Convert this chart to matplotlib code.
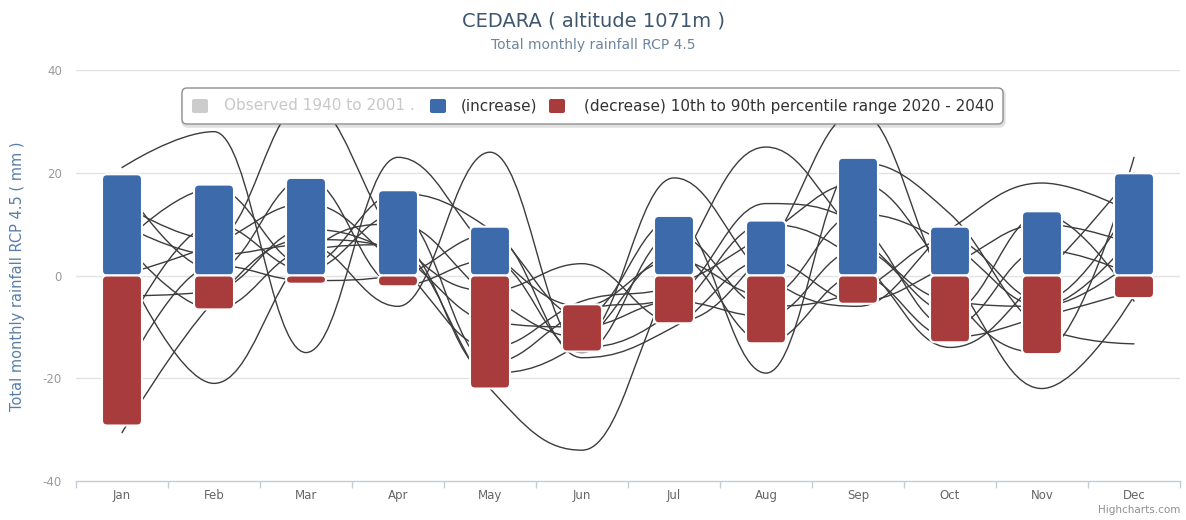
import matplotlib
matplotlib.use("Agg")
import matplotlib.pyplot as plt
from matplotlib.path import Path
from matplotlib.patches import PathPatch, FancyBboxPatch

# ---- data -------------------------------------------------------------
months = ["Jan", "Feb", "Mar", "Apr", "May", "Jun",
          "Jul", "Aug", "Sep", "Oct", "Nov", "Dec"]

# 10th and 90th percentile of projected change (mm), 2020 - 2040
p10 = [-29.2, -6.6, -1.6, -2.1, -22.0, -14.8, -9.3, -13.2, -5.5, -13.0, -15.3, -4.4]
p90 = [19.7, 17.7, 19.0, 16.6, 9.5, -5.6, 11.6, 10.7, 22.9, 9.5, 12.5, 19.9]

# individual downscaled model projections (mm)
model_a = [21, 28, -15, 23, 5, -6, 3, -4, 12, 6, -6, 8]
model_b = [-30.6, -5, 7, 5, -22, -34, 0, 25, 8, -5, -6, 3]
model_c = [3, -21, 4, 10, -4, -12, 19, 0, -6, 9, 18, 12]
model_d = [14, 7, 34, 7, -3, 2.3, -9, 5, 32, -3, -15, 23]
model_e = [10, 4, 6, -6, 24, -14, -7, 10, 3, -14, 0, 20]
model_f = [6, 17, 2, 16, 9, -8, 11, -19, 22, 12, -10, -13.3]
model_g = [0, 6, 14, 2, -14, -5, -2, 8, 18, 0, -22, -4]
model_h = [-4, -3, 9, 4, -9, -10, -5, -8, 5, -7, 12, -5]
model_i = [18, 1, 19, -2, 3, -15, 8, -6, -3, 7, -5, 15]
model_j = [-12, 10, 1, 12, -17, -7, -4, 14, 10, -10, 5, 0]
model_k = [7, -6.6, 5, 6, -19, -13, 4, -13, 0, -12, -8, -3]
model_l = [-20, 2, -1, 0, 8, -16, -10, 3, -5, 2, 10, 6]
models = [model_a, model_b, model_c, model_d, model_e, model_f,
          model_g, model_h, model_i, model_j, model_k, model_l]

title = "CEDARA ( altitude 1071m )"
subtitle = "Total monthly rainfall RCP 4.5"
y_title = "Total monthly rainfall RCP 4.5 ( mm )"
legend_labels = ["Observed 1940 to 2001 .", "(increase)",
                 "(decrease) 10th to 90th percentile range 2020 - 2040"]

# ---- styling ----------------------------------------------------------
BLUE = "#3d6aaa"
RED = "#a83b3b"
W, H = 1186, 520
L, R, T, B = 76, 1180, 70, 481

fig = plt.figure(figsize=(W / 100, H / 100), dpi=100)
fig.patch.set_facecolor("white")
ax = fig.add_axes([L / W, 1 - B / H, (R - L) / W, (B - T) / H])
ax.set_xlim(-0.5, len(months) - 0.5)
ax.set_ylim(-40, 40)
ax.set_facecolor("white")

# pixel size of one data unit, used for corner rounding
px_x = (R - L) / len(months)
px_y = (B - T) / 80.0


def spline_path(xs, ys):
    """Smooth curve through the points, same construction as a Highcharts spline."""
    sm, den = 1.5, 2.5
    n = len(xs)
    right = [None] * n
    verts = [(xs[0], ys[0])]
    codes = [Path.MOVETO]
    for i in range(1, n):
        x, y = xs[i], ys[i]
        if i < n - 1:
            lx, ly = xs[i - 1], ys[i - 1]
            nx, ny = xs[i + 1], ys[i + 1]
            lcx, lcy = (sm * x + lx) / den, (sm * y + ly) / den
            rcx, rcy = (sm * x + nx) / den, (sm * y + ny) / den
            corr = (rcy - lcy) * (rcx - x) / (rcx - lcx) + y - rcy
            lcy += corr
            rcy += corr
            if lcy > ly and lcy > y:
                lcy = max(ly, y)
                rcy = 2 * y - lcy
            elif lcy < ly and lcy < y:
                lcy = min(ly, y)
                rcy = 2 * y - lcy
            if rcy > ny and rcy > y:
                rcy = max(ny, y)
                lcy = 2 * y - rcy
            elif rcy < ny and rcy < y:
                rcy = min(ny, y)
                lcy = 2 * y - rcy
            right[i] = (rcx, rcy)
            left = (lcx, lcy)
        else:
            left = (x, y)
        prev = right[i - 1] if right[i - 1] is not None else (xs[i - 1], ys[i - 1])
        verts += [prev, left, (x, y)]
        codes += [Path.CURVE4] * 3
    return Path(verts, codes)


def rounded_rect(x0, x1, y0, y1, rx, ry):
    rx = min(rx, (x1 - x0) / 2)
    ry = min(ry, (y1 - y0) / 2)
    verts = [(x0 + rx, y0), (x1 - rx, y0), (x1, y0), (x1, y0 + ry),
             (x1, y1 - ry), (x1, y1), (x1 - rx, y1), (x0 + rx, y1),
             (x0, y1), (x0, y1 - ry), (x0, y0 + ry), (x0, y0),
             (x0 + rx, y0), (x0 + rx, y0)]
    codes = [Path.MOVETO, Path.LINETO, Path.CURVE3, Path.CURVE3,
             Path.LINETO, Path.CURVE3, Path.CURVE3, Path.LINETO,
             Path.CURVE3, Path.CURVE3, Path.LINETO, Path.CURVE3,
             Path.CURVE3, Path.CLOSEPOLY]
    return Path(verts, codes)


# grid
for v in (-20, 0, 20, 40):
    ax.axhline(v, color="#e2e2e2", lw=1.0, zorder=0)

# model curves
xs = list(range(len(months)))
for run in models:
    ax.add_patch(PathPatch(spline_path(xs, run), fc="none", ec="#3c3c3c",
                           lw=1.0, zorder=2, capstyle="round"))

# percentile range columns: blue above zero, red below zero
bw = 40 / px_x
rx, ry = 5 / px_x, 5 / px_y
for i, (lo, hi) in enumerate(zip(p10, p90)):
    if hi > 0:
        ax.add_patch(PathPatch(rounded_rect(i - bw / 2, i + bw / 2, max(lo, 0), hi, rx, ry),
                               fc=BLUE, ec="white", lw=1.5, zorder=3))
    if lo < 0:
        ax.add_patch(PathPatch(rounded_rect(i - bw / 2, i + bw / 2, lo, min(hi, 0), rx, ry),
                               fc=RED, ec="white", lw=1.5, zorder=3))

# axes
for s in ("top", "right", "left"):
    ax.spines[s].set_visible(False)
ax.spines["bottom"].set_color("#c6ccd4")
ax.spines["bottom"].set_linewidth(1.0)
ax.set_xticks(xs)
ax.set_xticklabels(months, fontsize=8.5, color="#666666")
ax.set_xticks([x - 0.5 for x in range(len(months) + 1)], minor=True)
ax.tick_params(axis="x", which="major", length=0, pad=6)
ax.tick_params(axis="x", which="minor", length=5, color="#c6ccd4", width=1)
ax.set_yticks([-40, -20, 0, 20, 40])
ax.set_yticklabels(["-40", "-20", "0", "20", "40"], fontsize=8.5, color="#9a9a9a")
ax.tick_params(axis="y", length=0, pad=10)

# overlay in pixel coordinates for titles, legend and credits
ov = fig.add_axes([0, 0, 1, 1], zorder=5)
ov.set_xlim(0, W)
ov.set_ylim(H, 0)
ov.axis("off")

ov.text(593, 21, title, ha="center", va="center", fontsize=14, color="#3e576f")
ov.text(593, 45, subtitle, ha="center", va="center", fontsize=10, color="#6d869f")
ov.text(18, 276, y_title, ha="center", va="center", rotation=90,
        fontsize=10.5, color="#5a7ea6")
ov.text(1180, 510, "Highcharts.com", ha="right", va="center", fontsize=7.5, color="#909090")

# legend
ov.add_patch(FancyBboxPatch((183, 90), 821, 36, boxstyle="round,pad=0,rounding_size=5",
                            fc="none", ec=(0, 0, 0, 0.12), lw=2.5))
ov.add_patch(FancyBboxPatch((182, 88), 821, 36, boxstyle="round,pad=0,rounding_size=5",
                            fc="white", ec="#8e8e8e", lw=1.0))
ly = 106
sq = [(192, "#cccccc"), (430, BLUE), (549, RED)]
tx = [(224, "#c8c8c8"), (461, "#333333"), (584, "#333333")]
for (sx, c), (txx, tc), lab in zip(sq, tx, legend_labels):
    ov.add_patch(FancyBboxPatch((sx, ly - 7), 16, 14, boxstyle="round,pad=0,rounding_size=2",
                                fc=c, ec="none"))
    ov.text(txx, ly, lab, ha="left", va="center", fontsize=11, color=tc)

fig.savefig("out.png", dpi=100, facecolor="white")
